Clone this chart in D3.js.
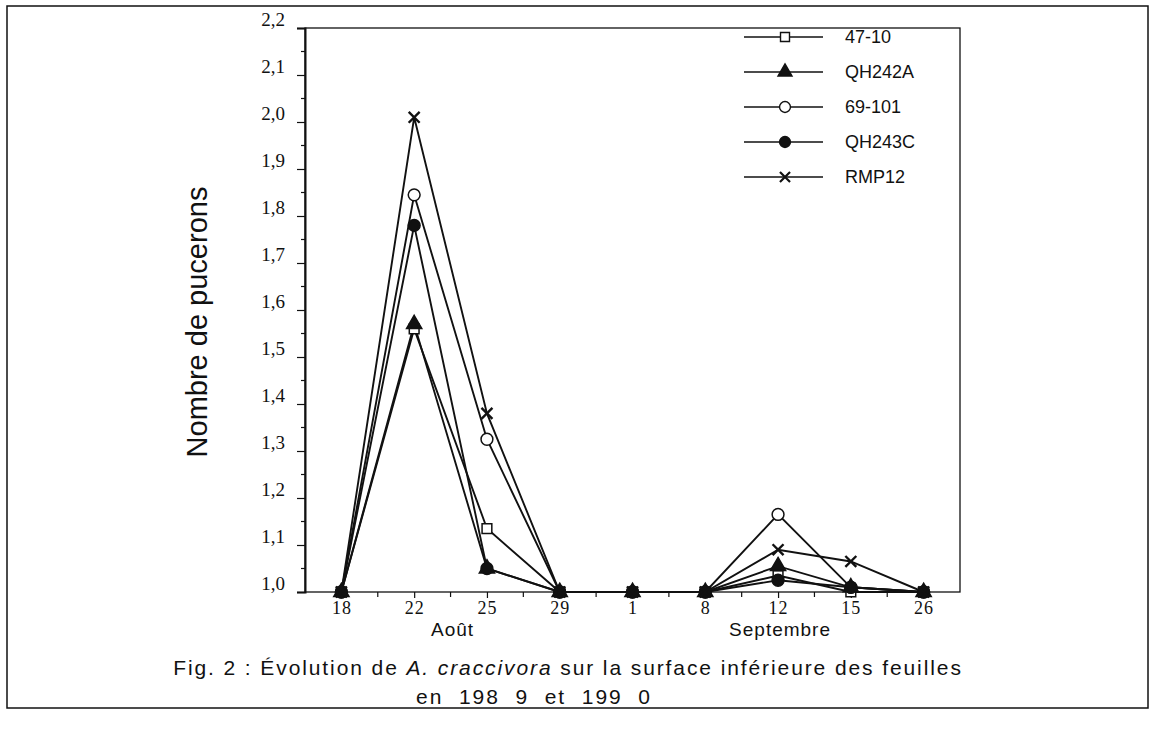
<!DOCTYPE html>
<html>
<head>
<meta charset="utf-8">
<script src="https://cdn.jsdelivr.net/npm/d3@7"></script>
<style>
  body { margin: 0; background: #fff; }
  svg { display: block; }
</style>
</head>
<body>
<script>
// dates de relevé (Août puis Septembre)
const days = ['18', '22', '25', '29', '1', '8', '12', '15', '26'];
const seriesNames = ['47-10', 'QH242A', '69-101', 'QH243C', 'RMP12'];
const s4710   = [1.0, 1.56, 1.135, 1.0, 1.0, 1.0, 1.035, 1.0, 1.0];
const sQH242A = [1.0, 1.57, 1.05, 1.0, 1.0, 1.0, 1.055, 1.01, 1.0];
const s69101  = [1.0, 1.845, 1.325, 1.0, 1.0, 1.0, 1.165, 1.01, 1.0];
const sQH243C = [1.0, 1.78, 1.05, 1.0, 1.0, 1.0, 1.025, 1.01, 1.0];
const sRMP12  = [1.0, 2.01, 1.38, 1.0, 1.0, 1.0, 1.09, 1.065, 1.0];
const yTickValues = [1.0, 1.1, 1.2, 1.3, 1.4, 1.5, 1.6, 1.7, 1.8, 1.9, 2.0, 2.1, 2.2];
const months = [{name: 'Août', from: '18', to: '29'}, {name: 'Septembre', from: '8', to: '15'}];

const allSeries = [s4710, sQH242A, s69101, sQH243C, sRMP12];

const W = 1155, H = 744;
const svg = d3.select('body').append('svg').attr('width', W).attr('height', H);

// cadre extérieur
svg.append('rect').attr('x', 7).attr('y', 6).attr('width', 1141).attr('height', 702)
  .attr('fill', 'none').attr('stroke', '#111').attr('stroke-width', 1.5);

const plot = {left: 305, right: 960, top: 28, bottom: 592};

const x = d3.scalePoint().domain(days).range([plot.left, plot.right]).padding(0.5);
const y = d3.scaleLinear().domain([1.0, 2.2]).range([plot.bottom, plot.top]);

const fmt = v => d3.format('.1f')(v).replace('.', ',');

// cadre du graphique
svg.append('rect').attr('x', plot.left).attr('y', plot.top)
  .attr('width', plot.right - plot.left).attr('height', plot.bottom - plot.top)
  .attr('fill', 'none').attr('stroke', '#111').attr('stroke-width', 1.3);

// axe Y
const yAxis = d3.axisLeft(y).tickValues(yTickValues).tickFormat(fmt).tickSize(8).tickPadding(12);
const yAxisG = svg.append('g').attr('transform', `translate(${plot.left},0)`).call(yAxis);
yAxisG.select('.domain').attr('stroke', '#111').attr('stroke-width', 2);
yAxisG.selectAll('.tick line').attr('stroke', '#111').attr('stroke-width', 1.2);
yAxisG.selectAll('.tick text')
  .attr('font-family', '"Liberation Serif", "DejaVu Serif", serif')
  .attr('font-size', 19).attr('fill', '#111').attr('dy', '-0.15em');
// petites graduations
const minor = d3.range(1.05, 2.2, 0.1);
svg.append('g').selectAll('line').data(minor).enter().append('line')
  .attr('x1', plot.left - 4).attr('x2', plot.left)
  .attr('y1', d => y(d)).attr('y2', d => y(d))
  .attr('stroke', '#111').attr('stroke-width', 1.2);

// axe X
const xAxis = d3.axisBottom(x).tickSize(6).tickPadding(3);
const xAxisG = svg.append('g').attr('transform', `translate(0,${plot.bottom})`).call(xAxis);
xAxisG.select('.domain').remove();
xAxisG.selectAll('.tick line').attr('stroke', '#111').attr('stroke-width', 1.2);
xAxisG.selectAll('.tick text')
  .attr('font-family', '"Liberation Serif", "DejaVu Serif", serif')
  .attr('font-size', 18).attr('letter-spacing', 1).attr('fill', '#111');
const step = x.step();
svg.append('g').selectAll('line').data(days.slice(0, -1)).enter().append('line')
  .attr('x1', d => x(d) + step / 2).attr('x2', d => x(d) + step / 2)
  .attr('y1', plot.bottom).attr('y2', plot.bottom + 5)
  .attr('stroke', '#111').attr('stroke-width', 1.2);

// mois
svg.append('g').selectAll('text').data(months).enter().append('text')
  .attr('x', d => (x(d.from) + x(d.to)) / 2 + 2)
  .attr('y', 636)
  .attr('text-anchor', 'middle')
  .attr('font-family', '"Liberation Sans", Arial, sans-serif')
  .attr('font-size', 19).attr('letter-spacing', 1).attr('fill', '#111')
  .text(d => d.name);

// titre axe Y
svg.append('text')
  .attr('transform', `translate(207,${(plot.top + plot.bottom) / 2 + 12}) rotate(-90)`)
  .attr('text-anchor', 'middle')
  .attr('font-family', '"Liberation Sans", Arial, sans-serif')
  .attr('font-size', 29).attr('fill', '#111')
  .text('Nombre de pucerons');

// symboles
const symTypes = [d3.symbolSquare, d3.symbolTriangle, d3.symbolCircle, d3.symbolCircle, d3.symbolTimes || d3.symbolCross];
const symSizes = [95, 100, 110, 110, 80];
const symFill = ['#fff', '#111', '#fff', '#111', 'none'];

const line = d3.line().x((d, i) => x(days[i])).y(d => y(d));

const g = svg.append('g');
allSeries.forEach((vals, k) => {
  g.append('path').datum(vals).attr('d', line)
    .attr('fill', 'none').attr('stroke', '#111').attr('stroke-width', 1.9);
});
allSeries.forEach((vals, k) => {
  g.selectAll(null).data(vals).enter().append('path')
    .attr('transform', (d, i) => `translate(${x(days[i])},${y(d)})`)
    .attr('d', d3.symbol().type(symTypes[k]).size(symSizes[k]))
    .attr('fill', symFill[k]).attr('stroke', '#111').attr('stroke-width', k === 4 ? 2.4 : 1.5);
});

// légende
const leg = svg.append('g');
seriesNames.forEach((name, k) => {
  const ly = 37 + k * 35;
  leg.append('line').attr('x1', 744).attr('x2', 823).attr('y1', ly).attr('y2', ly)
    .attr('stroke', '#111').attr('stroke-width', 1.4);
  leg.append('path').attr('transform', `translate(785,${ly})`)
    .attr('d', d3.symbol().type(symTypes[k]).size(symSizes[k] * 0.85))
    .attr('fill', symFill[k]).attr('stroke', '#111').attr('stroke-width', k === 4 ? 2.2 : 1.4);
  leg.append('text').attr('x', 845).attr('y', ly + 6)
    .attr('font-family', '"Liberation Sans", Arial, sans-serif')
    .attr('font-size', 18).attr('fill', '#111')
    .text(name);
});

// légende de la figure
const cap = svg.append('text').attr('x', 568).attr('y', 675).attr('text-anchor', 'middle')
  .attr('font-family', '"Liberation Sans", Arial, sans-serif')
  .attr('font-size', 21).attr('letter-spacing', 1.9).attr('fill', '#111');
cap.append('tspan').text('Fig. 2 : Évolution de ');
cap.append('tspan').attr('font-style', 'italic').text('A. craccivora');
cap.append('tspan').text(' sur la surface inférieure des feuilles');
svg.append('text').attr('x', 534).attr('y', 704).attr('text-anchor', 'middle')
  .attr('font-family', '"Liberation Sans", Arial, sans-serif')
  .attr('font-size', 21).attr('letter-spacing', 1.9).attr('word-spacing', 8).attr('fill', '#111')
  .text('en 198 9 et 199 0');
</script>
</body>
</html>
